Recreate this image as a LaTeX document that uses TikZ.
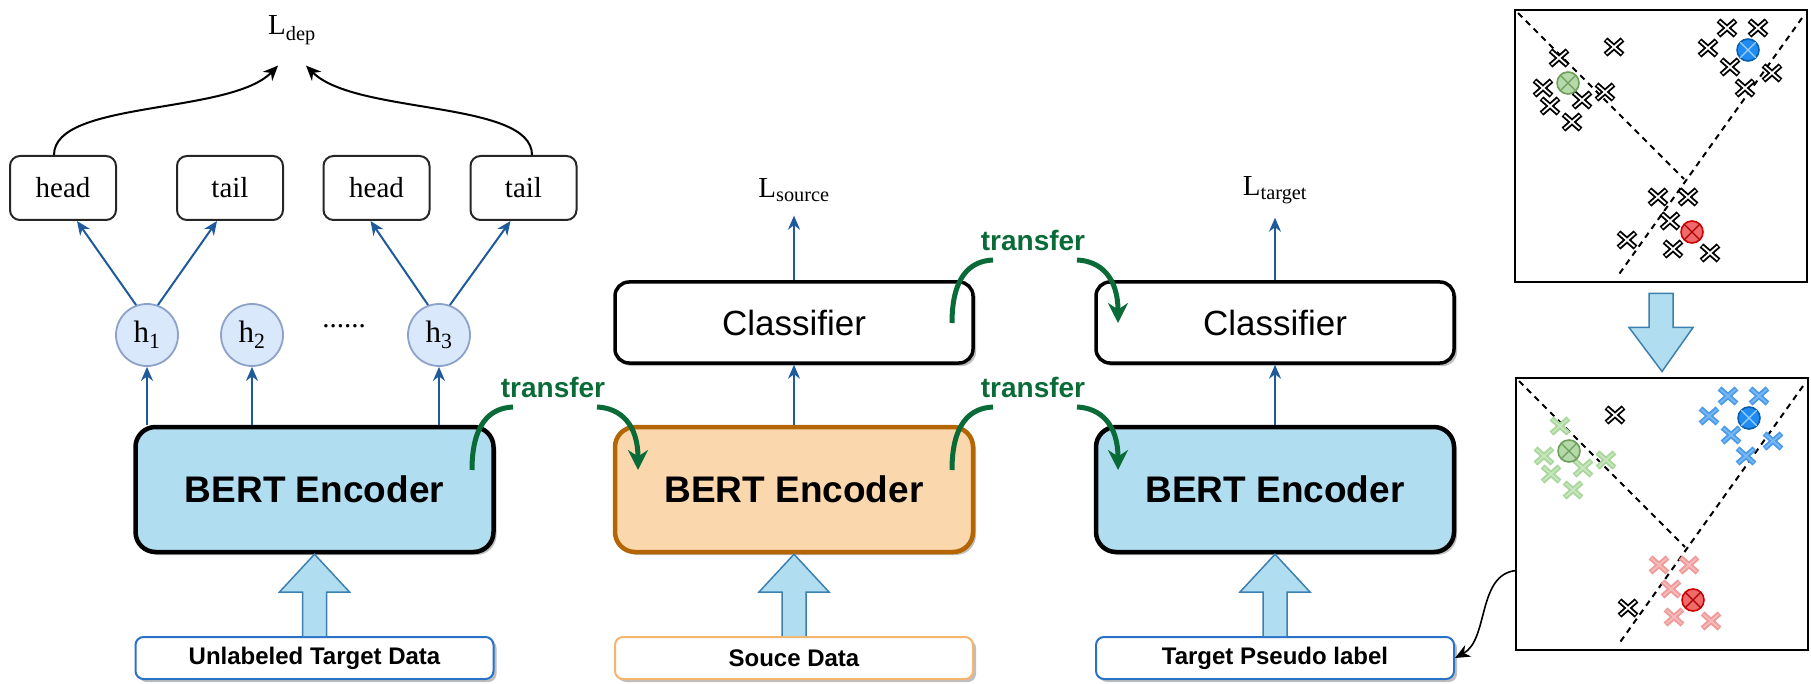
\documentclass[tikz,border=0pt]{standalone}
\usepackage{fontspec}
\setmainfont{Liberation Sans}
\newfontfamily\tnr{Liberation Serif}
\usetikzlibrary{arrows.meta,shadows,calc}
\definecolor{bfill}{HTML}{B1DDF0}
\definecolor{ofill}{HTML}{FAD7AC}
\definecolor{oline}{HTML}{B46504}
\definecolor{hfill}{HTML}{DAE8FC}
\definecolor{hline}{HTML}{8CA2C8}
\definecolor{arrblue}{HTML}{1E5A9C}
\definecolor{tgreen}{HTML}{0B6B38}
\definecolor{dblue}{HTML}{2A72C8}
\definecolor{dorange}{HTML}{F4B56E}
\definecolor{bigline}{HTML}{3C80B0}
\definecolor{gfill}{HTML}{B5D9A8}
\definecolor{gline}{HTML}{6C9E5C}
\definecolor{blfill}{HTML}{1E8CF0}
\definecolor{blline}{HTML}{0B5FB0}
\definecolor{blcross}{HTML}{9FD0FF}
\definecolor{rfill}{HTML}{F06A6A}
\definecolor{rline}{HTML}{D00000}
\definecolor{gx}{HTML}{A9D69B}
\definecolor{gxi}{HTML}{C8E6C0}
\definecolor{bx}{HTML}{4B9BEA}
\definecolor{bxi}{HTML}{7AB8F2}
\definecolor{rx}{HTML}{F09A9A}
\definecolor{rxi}{HTML}{F6BABA}
\tikzset{
  shad/.style={drop shadow={shadow xshift=3pt,shadow yshift=-3pt,fill=black,opacity=0.25}},
  bertbox/.style={draw=black,line width=4.5pt,rounded corners=20pt,minimum width=358pt,minimum height=125pt,fill=bfill,shad,font=\fontsize{37}{40}\selectfont\bfseries},
  clsbox/.style={draw=black,line width=3.5pt,rounded corners=14pt,minimum width=358pt,minimum height=81pt,fill=white,shad,font=\fontsize{35}{38}\selectfont},
  databox/.style={draw=dblue,line width=2pt,rounded corners=8pt,minimum width=358pt,minimum height=42pt,fill=white,shad,font=\fontsize{24}{26}\selectfont\bfseries},
  htbox/.style={draw=black!85,line width=2pt,rounded corners=10pt,minimum width=106pt,minimum height=64pt,fill=white,font=\tnr\fontsize{29}{31}\selectfont},
  hnode/.style={circle,draw=hline,line width=1.8pt,fill=hfill,minimum size=62pt,inner sep=0pt,font=\tnr\fontsize{31}{33}\selectfont},
  lbl/.style={font=\tnr\fontsize{29}{31}\selectfont,inner sep=0pt},
  barrow/.style={draw=arrblue,line width=2pt,-{Stealth[length=14pt,width=12pt]}},
  blk/.style={draw=black,line width=2pt,-{Stealth[length=15pt,width=13pt]}},
  transfer/.style={text=tgreen,font=\fontsize{28}{30}\selectfont\bfseries,inner sep=0pt},
  tarc/.style={draw=tgreen,line width=5pt},
  bigarrow/.style={draw=bigline,line width=1.5pt,fill=bfill},
  panel/.style={draw=black,line width=2pt,minimum width=292pt,minimum height=272pt,inner sep=0pt},
  dashline/.style={draw=black,line width=2pt,dash pattern=on 6pt off 5pt}
}
\newcommand\xmk[4]{%
  \draw[line width=5.6pt,#3] (#1-8.5,#2-7.5)--(#1+8.5,#2+7.5) (#1-8.5,#2+7.5)--(#1+8.5,#2-7.5);
  \draw[line width=1.8pt,#4] (#1-7.5,#2-6.6)--(#1+7.5,#2+6.6) (#1-7.5,#2+6.6)--(#1+7.5,#2-6.6);}
\newcommand\otc[5]{%
  \draw[line width=1.6pt,draw=#4,fill=#3] (#1,#2) circle[radius=11];
  \draw[line width=1.2pt,#5] (#1-7.8,#2-7.8)--(#1+7.8,#2+7.8) (#1-7.8,#2+7.8)--(#1+7.8,#2-7.8);}
\newcommand\panelstuff[6]{%
  \draw[dashline] (3,3) -- (169,169);
  \draw[dashline] (287,8) -- (102,267);
  \xmk{99}{37}{black}{white}
  \xmk{112}{230}{black}{white}
  \xmk{44}{48}{#1}{#2}\xmk{28}{78}{#1}{#2}\xmk{35}{96}{#1}{#2}
  \xmk{67}{90}{#1}{#2}\xmk{57}{112}{#1}{#2}\xmk{90}{82}{#1}{#2}
  \xmk{212}{18}{#3}{#4}\xmk{243}{18}{#3}{#4}\xmk{193}{38}{#3}{#4}
  \xmk{215}{57}{#3}{#4}\xmk{257}{63}{#3}{#4}\xmk{230}{78}{#3}{#4}
  \xmk{143}{187}{#5}{#6}\xmk{173}{187}{#5}{#6}\xmk{155}{211}{#5}{#6}
  \xmk{158}{239}{#5}{#6}\xmk{195}{243}{#5}{#6}
  \otc{53}{73}{gfill}{gline}{gline}
  \otc{233}{40}{blfill}{blline}{blcross}
  \otc{177}{222}{rfill}{rline}{rline!80!black}}
\begin{document}
\begin{tikzpicture}[x=1pt,y=-1pt]
\useasboundingbox (0,0) rectangle (1811,684);
% top-left dependency part
\node[lbl] (ldep) at (292,30) {L\textsubscript{dep}};
\node[htbox] (head1) at (63,188) {head};
\node[htbox] (tail1) at (230,188) {tail};
\node[htbox] (head2) at (376.5,188) {head};
\node[htbox] (tail2) at (523.5,188) {tail};
\node[hnode] (h1) at (147,335) {h\textsubscript{1}};
\node[hnode] (h2) at (252,335) {h\textsubscript{2}};
\node[hnode] (h3) at (439,335) {h\textsubscript{3}};
\node[lbl] (dots) at (344,326) {......};
\draw[blk] (head1.north -| 54,0) .. controls (54,100) and (230,115) .. ([xshift=-14pt,yshift=-21pt]ldep.south);
\draw[blk] (tail2.north -| 532,0) .. controls (532,100) and (355,115) .. ([xshift=14pt,yshift=-21pt]ldep.south);
\draw[barrow] (h1.110) -- ([xshift=14pt]head1.south);
\draw[barrow] (h1.70) -- ([xshift=-13pt]tail1.south);
\draw[barrow] (h3.110) -- ([xshift=-6pt]head2.south);
\draw[barrow] (h3.70) -- ([xshift=-13pt]tail2.south);
% columns
\node[bertbox] (bert1) at (314.5,489.5) {BERT Encoder};
\node[bertbox,fill=ofill,draw=oline] (bert2) at (794,489.5) {BERT Encoder};
\node[bertbox] (bert3) at (1275,489.5) {BERT Encoder};
\node[clsbox] (cls1) at (794,322.5) {Classifier};
\node[clsbox] (cls2) at (1275,322.5) {Classifier};
\node[databox] (unl) at (314.5,658) {Unlabeled Target Data};
\node[databox,draw=dorange] (src) at (794,658) {Souce Data};
\node[databox] (tpl) at (1275,658) {Target Pseudo label};
\node[lbl] (lsrc) at (794,190) {L\textsubscript{source}};
\node[lbl] (ltgt) at (1275,190) {L\textsubscript{target}};
% blue arrows
\draw[barrow] (h1.south |- bert1.north) -- (h1.south);
\draw[barrow] (h2.south |- bert1.north) -- (h2.south);
\draw[barrow] (h3.south |- bert1.north) -- (h3.south);
\draw[barrow] (bert2.north) -- (cls1.south);
\draw[barrow] (bert3.north) -- (cls2.south);
\draw[barrow] (cls1.north) -- ([yshift=-14pt]lsrc.south);
\draw[barrow] (cls2.north) -- ([yshift=-14pt]ltgt.south);
% big input arrows
\foreach \d/\b in {unl/bert1,src/bert2,tpl/bert3}{
  \draw[bigarrow] ($(\d.north)+(-12,0)$) -- ($(\d.north)+(-12,-44)$) -- ($(\d.north)+(-35,-44)$) -- (\b.south) -- ($(\d.north)+(35,-44)$) -- ($(\d.north)+(12,-44)$) -- ($(\d.north)+(12,0)$);
}
% transfers
\node[transfer] (tr1) at (553,387) {transfer};
\node[transfer] (tr2) at (1033,387) {transfer};
\node[transfer] (tr3) at (1033,240) {transfer};
\foreach \t in {tr1,tr2,tr3}{
  \draw[tarc] ($(\t)+(-81,83)$) .. controls ($(\t)+(-81,38)$) and ($(\t)+(-64,21)$) .. ($(\t)+(-40,20)$);
  \draw[tarc,-{Stealth[length=20pt,width=20pt]}] ($(\t)+(44,20)$) .. controls ($(\t)+(68,21)$) and ($(\t)+(85,38)$) .. ($(\t)+(85,83)$);
}
% right panels
\node[panel] (panA) at (1661,146.5) {};
\node[panel] (panB) at (1662,513.5) {};
\begin{scope}[shift={(1515,10)}]
  \panelstuff{black}{white}{black}{white}{black}{white}
\end{scope}
\begin{scope}[shift={(1516,378)}]
  \panelstuff{gx}{gxi}{bx}{bxi}{rx}{rxi}
\end{scope}
\draw[bigarrow] ($(panA.south)+(-12,10)$) -- ($(panA.south)+(-12,44)$) -- ($(panA.south)+(-32,44)$) -- ([yshift=5pt]panB.north) -- ($(panA.south)+(32,44)$) -- ($(panA.south)+(12,44)$) -- ($(panA.south)+(12,10)$) -- cycle;
\draw[blk,line width=1.6pt] ($(panB.west)+(1,57)$) .. controls ($(panB.west)+(-38,61)$) and ($(panB.west)+(-26,126)$) .. (tpl.east);
\end{tikzpicture}
\end{document}
